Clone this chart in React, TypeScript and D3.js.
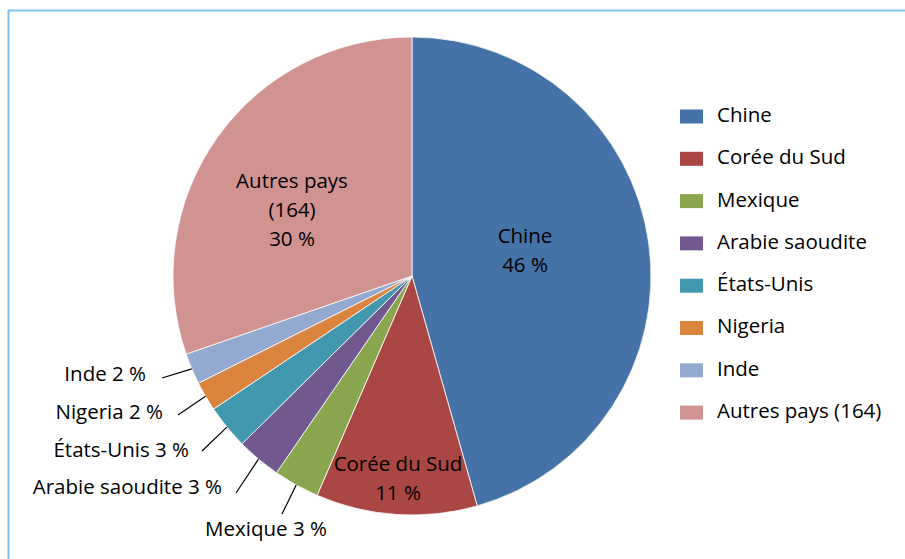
import React, { useEffect, useRef } from 'react';
import * as d3 from 'd3';

// pays et parts (%)
const countries = ['Chine', 'Corée du Sud', 'Mexique', 'Arabie saoudite', 'États-Unis', 'Nigeria', 'Inde', 'Autres pays'];
const shares = [45.6, 10.9, 3.1, 3.0, 3.0, 2.0, 2.1, 30.3];
const shownPct = [46, 11, 3, 3, 3, 2, 2, 30];
const legendLabels = ['Chine', 'Corée du Sud', 'Mexique', 'Arabie saoudite', 'États-Unis', 'Nigeria', 'Inde', 'Autres pays (164)'];
const colors = ['#4572a7', '#aa4643', '#89a54e', '#71588f', '#4198af', '#db843d', '#93a9cf', '#d19392'];

const FONT = '"Open Sans", Lato, sans-serif';
const FS = 20.5;

const App = () => {
  const ref = useRef<SVGSVGElement | null>(null);

  useEffect(() => {
    const svg = d3.select(ref.current);
    svg.selectAll('*').remove();

    const width = 905;
    const height = 559;
    const cx = 412;
    const cy = 276;
    const radius = 239;

    // cadre bleu clair
    svg
      .append('rect')
      .attr('x', 8.5)
      .attr('y', 10.5)
      .attr('width', width + 20)
      .attr('height', height + 20)
      .attr('fill', 'none')
      .attr('stroke', '#7cc4f4')
      .attr('stroke-width', 2);

    const data = countries.map((c, i) => ({ name: c, value: shares[i], pct: shownPct[i], color: colors[i] }));

    const pie = d3
      .pie<any>()
      .value((d) => d.value)
      .sort(null);
    const arcs = pie(data);
    const arc = d3.arc<any>().innerRadius(0).outerRadius(radius);

    const g = svg.append('g').attr('transform', `translate(${cx}, ${cy})`);

    g.selectAll('path')
      .data(arcs)
      .enter()
      .append('path')
      .attr('d', arc)
      .attr('fill', (d) => d.data.color)
      .attr('stroke', '#fff')
      .attr('stroke-width', 0.8);

    // étiquettes intérieures
    const inside: Record<string, { x: number; y: number; lines: string[] }> = {
      Chine: { x: 113, y: -38, lines: ['Chine', '46 %'] },
      'Corée du Sud': { x: -14, y: 190, lines: ['Corée du Sud', '11 %'] },
      'Autres pays': { x: -120, y: -93, lines: ['Autres pays', '(164)', '30 %'] }
    };
    arcs.forEach((a) => {
      const lab = inside[a.data.name];
      if (!lab) return;
      lab.lines.forEach((t, k) => {
        g.append('text')
          .attr('x', lab.x)
          .attr('y', lab.y + k * 29)
          .attr('text-anchor', 'middle')
          .attr('dominant-baseline', 'middle')
          .attr('font-family', FONT)
          .attr('font-size', FS)
          .attr('fill', '#000')
          .text(t);
      });
    });

    // étiquettes extérieures avec lignes de rappel
    const outside: Record<string, { x: number; y: number; tx: number; ty: number; anchor: string }> = {
      Mexique: { x: 282, y: 514, tx: 266, ty: 531, anchor: 'middle' },
      'Arabie saoudite': { x: 236, y: 493, tx: 222, ty: 489, anchor: 'end' },
      'États-Unis': { x: 202, y: 451, tx: 189, ty: 452, anchor: 'end' },
      Nigeria: { x: 178, y: 415, tx: 163, ty: 414, anchor: 'end' },
      Inde: { x: 162, y: 378, tx: 146, ty: 376, anchor: 'end' }
    };
    arcs.forEach((a) => {
      const lab = outside[a.data.name];
      if (!lab) return;
      const mid = (a.startAngle + a.endAngle) / 2;
      const sx = cx + radius * Math.sin(mid);
      const sy = cy - radius * Math.cos(mid);
      svg
        .append('line')
        .attr('x1', sx)
        .attr('y1', sy)
        .attr('x2', lab.x)
        .attr('y2', lab.y)
        .attr('stroke', '#000')
        .attr('stroke-width', 1.2);
      svg
        .append('text')
        .attr('x', lab.tx)
        .attr('y', lab.ty)
        .attr('text-anchor', lab.anchor)
        .attr('dominant-baseline', 'middle')
        .attr('font-family', FONT)
        .attr('font-size', FS)
        .attr('fill', '#000')
        .text(`${a.data.name} ${a.data.pct} %`);
    });

    // légende
    const legend = svg.append('g').attr('transform', 'translate(680, 116.5)');
    legendLabels.forEach((l, i) => {
      const row = legend.append('g').attr('transform', `translate(0, ${i * 42.3})`);
      row.append('rect').attr('x', 0).attr('y', -7).attr('width', 23).attr('height', 14).attr('fill', colors[i]);
      row
        .append('text')
        .attr('x', 37)
        .attr('y', 0)
        .attr('dominant-baseline', 'middle')
        .attr('font-family', FONT)
        .attr('font-size', FS)
        .attr('fill', '#000')
        .text(l);
    });
  }, []);

  return (
    <svg
      ref={ref}
      width={905}
      height={559}
      style={{ position: 'absolute', left: 0, top: 0, display: 'block', background: '#fff' }}
    />
  );
};

export default App;
